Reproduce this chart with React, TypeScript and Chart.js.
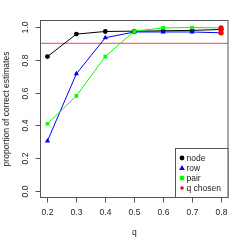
import { useEffect, useRef } from "react";
import { Chart, registerables } from "chart.js";
Chart.register(...registerables);

const qValues = [0.2, 0.3, 0.4, 0.5, 0.6, 0.7, 0.8];
const nodeValues = [0.82, 0.957, 0.973, 0.975, 0.977, 0.98, 0.985];
const rowValues = [0.305, 0.715, 0.935, 0.97, 0.97, 0.97, 0.965];
const pairValues = [0.41, 0.58, 0.82, 0.975, 0.995, 0.997, 0.995];
const qChosenX = [0.8, 0.8, 0.8];
const qChosenY = [0.965, 0.985, 0.995];
const thresholdValue = 0.9;
const xTicks = [0.2, 0.3, 0.4, 0.5, 0.6, 0.7, 0.8];
const xTickLabels = ["0.2", "0.3", "0.4", "0.5", "0.6", "0.7", "0.8"];
const yTicks = [0, 0.2, 0.4, 0.6, 0.8, 1.0];
const yTickLabels = ["0.0", "0.2", "0.4", "0.6", "0.8", "1.0"];
const legendLabels = ["node", "row", "pair", "q chosen"];
const legendColors = ["#000000", "#0000ff", "#00ff00", "#ff0000"];
const legendShapes = ["circle", "triangle", "rect", "dot"];
const xTitle = "q";
const yTitle = "proportion of correct estimates";

const FONT = '8.5px "Liberation Sans", Arial, sans-serif';
const TEXT = "#222";
const AXIS = "#555";

function drawShape(ctx: CanvasRenderingContext2D, shape: string, x: number, y: number, color: string) {
  ctx.save();
  ctx.fillStyle = color;
  ctx.beginPath();
  if (shape === "circle") {
    ctx.arc(x, y, 2.4, 0, Math.PI * 2);
  } else if (shape === "dot") {
    ctx.arc(x, y, 1.8, 0, Math.PI * 2);
  } else if (shape === "triangle") {
    ctx.moveTo(x, y - 3);
    ctx.lineTo(x + 2.9, y + 2);
    ctx.lineTo(x - 2.9, y + 2);
    ctx.closePath();
  } else {
    ctx.rect(x - 2.2, y - 2.2, 4.4, 4.4);
  }
  ctx.fill();
  ctx.restore();
}

const decorPlugin = {
  id: "decor",
  beforeDatasetsDraw(chart: any) {
    const { ctx, chartArea: a, scales } = chart;
    const ty = scales.y.getPixelForValue(thresholdValue);
    ctx.save();
    ctx.strokeStyle = "#ff0000";
    ctx.globalAlpha = 0.6;
    ctx.lineWidth = 1.3;
    ctx.beginPath();
    ctx.moveTo(a.left, ty);
    ctx.lineTo(a.right, ty);
    ctx.stroke();
    ctx.restore();
  },
  afterDatasetsDraw(chart: any) {
    const { ctx, chartArea: a, scales } = chart;
    const xs = scales.x;
    const ys = scales.y;
    ctx.save();
    ctx.lineWidth = 1;
    ctx.strokeStyle = AXIS;
    ctx.strokeRect(a.left, a.top, a.right - a.left, a.bottom - a.top);
    ctx.font = FONT;
    ctx.fillStyle = TEXT;
    ctx.textAlign = "center";
    ctx.textBaseline = "middle";
    xTicks.forEach((v, i) => {
      const px = Math.round(xs.getPixelForValue(v)) + 0.5;
      ctx.beginPath();
      ctx.moveTo(px, a.bottom);
      ctx.lineTo(px, a.bottom + 5);
      ctx.stroke();
      ctx.fillText(xTickLabels[i], px, a.bottom + 15);
    });
    yTicks.forEach((v, i) => {
      const py = Math.round(ys.getPixelForValue(v)) + 0.5;
      ctx.beginPath();
      ctx.moveTo(a.left, py);
      ctx.lineTo(a.left - 5, py);
      ctx.stroke();
      ctx.save();
      ctx.translate(a.left - 15, py);
      ctx.rotate(-Math.PI / 2);
      ctx.fillText(yTickLabels[i], 0, 0);
      ctx.restore();
    });
    ctx.fillText(xTitle, (a.left + a.right) / 2, 233);
    ctx.save();
    ctx.translate(7, (a.top + a.bottom) / 2);
    ctx.rotate(-Math.PI / 2);
    ctx.fillText(yTitle, 0, 0);
    ctx.restore();
    const lx = 175.5;
    const ly = 148.5;
    ctx.fillStyle = "#fff";
    ctx.fillRect(lx, ly, a.right - lx, a.bottom - ly);
    ctx.strokeRect(lx, ly, a.right - lx, a.bottom - ly);
    ctx.textAlign = "left";
    legendLabels.forEach((lab, i) => {
      const cy = 158 + i * 10;
      drawShape(ctx, legendShapes[i], 182, cy, legendColors[i]);
      ctx.fillStyle = TEXT;
      ctx.fillText(lab, 186.5, cy + 0.5);
    });
    ctx.restore();
  },
};

export default function App() {
  const ref = useRef<HTMLCanvasElement | null>(null);
  useEffect(() => {
    document.body.style.margin = "0";
    const toXY = (ys: number[], xs: number[] = qValues) => xs.map((x, i) => ({ x, y: ys[i] }));
    const chart = new Chart(ref.current as HTMLCanvasElement, {
      type: "line",
      data: {
        datasets: [
          {
            label: legendLabels[0],
            data: toXY(nodeValues),
            order: 4,
            borderColor: "#000",
            backgroundColor: "#000",
            borderWidth: 1,
            pointStyle: "circle",
            pointRadius: 2.4,
            pointBorderWidth: 0,
          },
          {
            label: legendLabels[1],
            data: toXY(rowValues),
            order: 3,
            borderColor: "#0000ff",
            backgroundColor: "#0000ff",
            borderWidth: 1,
            pointStyle: "triangle",
            pointRadius: 3,
            pointBorderWidth: 0,
          },
          {
            label: legendLabels[2],
            data: toXY(pairValues),
            order: 2,
            borderColor: "#00ff00",
            backgroundColor: "#00ff00",
            borderWidth: 1,
            pointStyle: "rect",
            pointRadius: 2.6,
            pointBorderWidth: 0,
          },
          {
            label: legendLabels[3],
            data: toXY(qChosenY, qChosenX),
            order: 1,
            showLine: false,
            borderColor: "#ff0000",
            backgroundColor: "#ff0000",
            pointStyle: "circle",
            pointRadius: 2.6,
            pointBorderWidth: 0,
          },
        ],
      },
      options: {
        animation: false,
        responsive: false,
        maintainAspectRatio: false,
        devicePixelRatio: 1,
        layout: { padding: { left: 40.5, right: 21, top: 20.5, bottom: 51.5 } },
        scales: {
          x: { type: "linear", min: 0.176, max: 0.824, display: false },
          y: { type: "linear", min: -0.04, max: 1.04, display: false },
        },
        plugins: { legend: { display: false }, tooltip: { enabled: false } },
      },
      plugins: [decorPlugin],
    });
    return () => chart.destroy();
  }, []);
  return (
    <div style={{ position: "absolute", left: 0, top: 0, width: 249, height: 249, background: "#fff" }}>
      <canvas ref={ref} width={249} height={249} style={{ width: 249, height: 249 }} />
    </div>
  );
}
